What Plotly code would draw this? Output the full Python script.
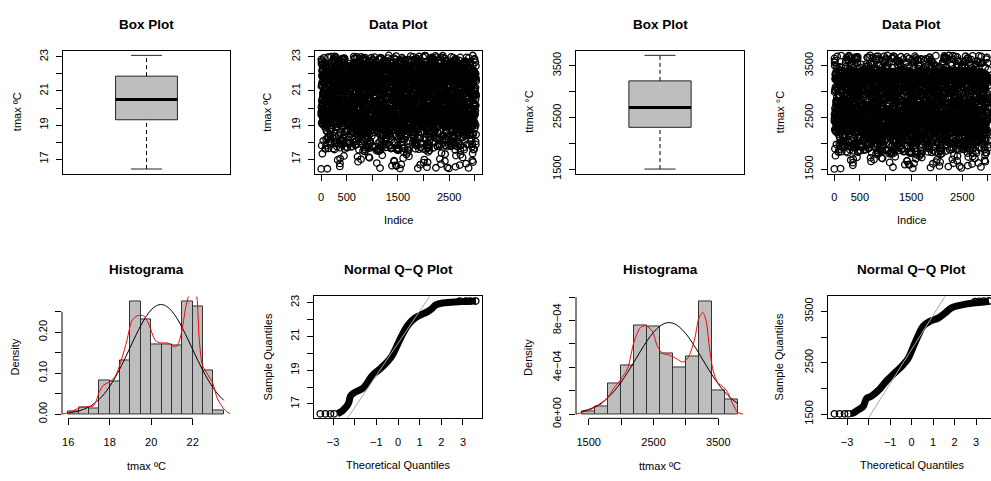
import numpy as np
import plotly.graph_objects as go

W, H = 991, 481
FONT = "Liberation Sans"

# ---------------- data ----------------
n_obs = 3020

# variable 1 : tmax
tmax_box = {"lo": 16.42, "q1": 19.31, "med": 20.50, "q3": 21.87, "hi": 23.09}
tmax_breaks = [16.0, 16.5, 17.0, 17.5, 18.0, 18.5, 19.0, 19.5, 20.0, 20.5, 21.0, 21.5, 22.0, 22.5, 23.0, 23.5]
tmax_density = [0.0056, 0.0167, 0.015, 0.0825, 0.081, 0.131, 0.2746, 0.2317, 0.1706, 0.1714, 0.1675, 0.276, 0.264, 0.106, 0.0095]
tmax_kde_x = [15.7, 16.0, 16.3, 16.6, 16.9, 17.2, 17.35, 17.5, 17.65, 17.8, 18.0, 18.27, 18.59, 18.83, 19.07, 19.32,
              19.64, 19.88, 20.2, 20.45, 20.77, 21.0, 21.18, 21.34, 21.5, 21.66, 21.79, 22.0, 22.2, 22.31, 22.47,
              22.72, 22.96, 23.2, 23.52, 23.77, 24.0]
tmax_kde_y = [0.0, 0.004, 0.01, 0.016, 0.018, 0.02, 0.033, 0.055, 0.068, 0.074, 0.079, 0.093, 0.137, 0.18, 0.228, 0.24,
              0.24, 0.22, 0.18, 0.174, 0.174, 0.168, 0.164, 0.176, 0.21, 0.26, 0.287, 0.325, 0.287, 0.188, 0.12,
              0.097, 0.077, 0.037, 0.012, 0.002, 0.0]
tmax_norm_x = [16.0, 16.25, 16.5, 16.75, 17.0, 17.25, 17.5, 17.75, 18.0, 18.25, 18.5, 18.75, 19.0, 19.25, 19.5, 19.75,
               20.0, 20.25, 20.5, 20.75, 21.0, 21.25, 21.5, 21.75, 22.0, 22.25, 22.5, 22.75, 23.0, 23.25, 23.5]
tmax_norm_y = [0.0030, 0.0049, 0.0077, 0.0119, 0.0178, 0.0259, 0.0367, 0.0505, 0.0678, 0.0882, 0.1117, 0.1375,
               0.1645, 0.1914, 0.2166, 0.2382, 0.2547, 0.2648, 0.2677, 0.2630, 0.2513, 0.2335, 0.2108, 0.1851,
               0.1580, 0.1311, 0.1058, 0.0830, 0.0633, 0.0470, 0.0338]
tmax_qq_theo = [-2.8, -2.6, -2.45, -2.35, -2.27, -2.2, -2.1, -1.95, -1.6, -1.2, -0.9, -0.6, -0.3, -0.1, 0.2, 0.45,
                0.75, 1.1, 1.35, 1.55, 1.75, 2.1, 2.8, 3.6]
tmax_qq_samp = [16.42, 16.56, 16.75, 16.9, 17.1, 17.45, 17.6, 17.72, 17.95, 18.67, 19.0, 19.35, 19.8, 20.3, 21.1, 21.65,
                22.05, 22.3, 22.45, 22.62, 22.86, 22.98, 23.05, 23.09]
tmax_qq_tail_x = [-3.59, -3.35, -3.12, -2.95, 2.85, 3.13, 3.32, 3.59]
tmax_qq_tail_y = [16.42, 16.42, 16.42, 16.42, 23.08, 23.08, 23.09, 23.09]

# variable 2 : ttmax
ttmax_box = {"lo": 1505, "q1": 2311, "med": 2694, "q3": 3208, "hi": 3702}
ttmax_breaks = [1400, 1600, 1800, 2000, 2200, 2400, 2600, 2800, 3000, 3200, 3400, 3600, 3800]
ttmax_density = [2.5e-5, 6.7e-5, 2.61e-4, 4.19e-4, 7.56e-4, 7.5e-4, 5.22e-4, 3.97e-4, 4.94e-4, 9.67e-4, 2.0e-4, 1.25e-4]
ttmax_kde_x = [1300, 1400, 1550, 1700, 1800, 1900, 2000, 2100, 2200, 2300, 2380, 2480, 2560, 2640, 2740, 2850, 2950,
               3030, 3130, 3200, 3260, 3310, 3360, 3420, 3490, 3570, 3640, 3720, 3800, 3880]
ttmax_kde_y = [0.0, 1.4e-5, 4.5e-5, 9e-5, 1.5e-4, 2.3e-4, 3.0e-4, 3.9e-4, 6.2e-4, 7.4e-4, 7.55e-4, 7.1e-4, 5.8e-4,
               5.2e-4, 5.05e-4, 4.75e-4, 4.45e-4, 4.8e-4, 6.3e-4, 8.2e-4, 8.7e-4, 8.0e-4, 5.8e-4, 3.7e-4, 2.7e-4,
               2.35e-4, 1.9e-4, 9e-5, 1.5e-5, 0.0]
ttmax_norm_x = [1400, 1500, 1600, 1700, 1800, 1900, 2000, 2100, 2200, 2300, 2400, 2500, 2600, 2700, 2800, 2900, 3000,
                3100, 3200, 3300, 3400, 3500, 3600, 3700, 3800]
ttmax_norm_y = [2.48e-5, 4.07e-5, 6.43e-5, 9.78e-5, 1.430e-4, 2.015e-4, 2.728e-4, 3.558e-4, 4.464e-4, 5.389e-4,
                6.26e-4, 7.0e-4, 7.53e-4, 7.80e-4, 7.77e-4, 7.44e-4, 6.87e-4, 6.095e-4, 5.21e-4, 4.28e-4, 3.38e-4,
                2.577e-4, 1.887e-4, 1.331e-4, 9.0e-5]
ttmax_qq_theo = [-2.85, -2.72, -2.49, -2.26, -2.1, -1.87, -1.48, -1.17, -0.78, -0.4, -0.16, 0.07, 0.3, 0.53, 0.84,
                 1.23, 1.54, 1.85, 2.24, 2.86, 3.33, 3.6]
ttmax_qq_samp = [1505, 1519, 1583, 1645, 1800, 1851, 1989, 2147, 2303, 2459, 2585, 2804, 3023, 3211, 3305, 3368, 3462,
                 3568, 3618, 3662, 3680, 3700]
ttmax_qq_tail_x = [-3.59, -3.35, -3.12, -2.95, 2.95, 3.15, 3.35, 3.59]
ttmax_qq_tail_y = [1505, 1505, 1505, 1505, 3690, 3695, 3700, 3702]

# tick labels
tmax_ticks = [17, 18, 19, 20, 21, 22, 23]
tmax_ticktext = ["17", "", "19", "", "21", "", "23"]
ttmax_ticks = [1500, 2000, 2500, 3000, 3500]
ttmax_ticktext = ["1500", "", "2500", "", "3500"]
idx_ticks = [0, 500, 1000, 1500, 2000, 2500, 3000]
idx_ticktext = ["0", "500", "", "1500", "", "2500", ""]
qq_ticks = [-3, -2, -1, 0, 1, 2, 3]
qq_ticktext = ["\u22123", "", "\u22121", "0", "1", "2", "3"]
h1_xticks = [16, 18, 20, 22]
h1_xtext = ["16", "18", "20", "22"]
h1_yticks = [0.0, 0.05, 0.10, 0.15, 0.20, 0.25]
h1_ytext = ["0.00", "", "0.10", "", "0.20", ""]
h2_xticks = [1500, 2000, 2500, 3000, 3500]
h2_xtext = ["1500", "", "2500", "", "3500"]
h2_yticks = [0, 2e-4, 4e-4, 6e-4, 8e-4, 1e-3]
h2_ytext = ["0e+00", "", "4e\u221204", "", "8e\u221204", ""]


# observations in index order, rebuilt from the histogram bin counts read above
def scramble_key(j):
    h = (j.astype(np.uint64) * np.uint64(0x9E3779B1)) & np.uint64(0xFFFFFFFF)
    h ^= h >> np.uint64(15)
    h = (h * np.uint64(0x85EBCA77)) & np.uint64(0xFFFFFFFF)
    h ^= h >> np.uint64(13)
    h = (h * np.uint64(0xC2B2AE3D)) & np.uint64(0xFFFFFFFF)
    h ^= h >> np.uint64(16)
    return h


def rebuild(breaks, density, n, lo, hi):
    vals = []
    for a, b, d in zip(breaks[:-1], breaks[1:], density):
        c = int(round(d * (b - a) * n))
        a2, b2 = max(a, lo), min(b, hi)
        vals.extend(a2 + (b2 - a2) * (np.arange(c) + 0.5) / c)
    vals = np.array(vals)
    pos = np.argsort(np.argsort(scramble_key(np.arange(len(vals)))))
    return pos + 1, vals


# ---------------- layout helpers ----------------
def px_x(a, b):
    return [a / W, min(b / W, 1.0)]


def px_y(top, bot):
    return [1 - bot / H, 1 - top / H]


TICKF = dict(family=FONT, size=11, color="black")
fig = go.Figure()
layout = dict(width=W, height=H, margin=dict(l=0, r=0, t=0, b=0), paper_bgcolor="white",
              plot_bgcolor="white", showlegend=False, font=dict(family=FONT, color="black"),
              barmode="overlay", bargap=0)

TOP = px_y(50, 176)
BOT = px_y(302, 427)


def xax(dom, yanchor, rng, tv=None, tt=None, line=True, mirror=True):
    d = dict(domain=dom, anchor=yanchor, range=rng, showgrid=False, zeroline=False,
             showline=line, linecolor="black", linewidth=1, mirror=mirror,
             tickfont=TICKF, fixedrange=True)
    if tv is None:
        d.update(showticklabels=False, ticks="")
    else:
        d.update(tickmode="array", tickvals=tv, ticktext=tt, ticks="outside", ticklen=6,
                 tickcolor="black", tickwidth=1, ticklabelstandoff=7)
    return d


def yax(dom, xanchor, rng, tv, tt, line=True, mirror=True):
    return dict(domain=dom, anchor=xanchor, range=rng, showgrid=False, zeroline=False,
                showline=line, linecolor="black", linewidth=1, mirror=mirror,
                tickfont=TICKF, tickmode="array", tickvals=tv, ticktext=tt,
                ticks="outside", ticklen=6, tickcolor="black", tickwidth=1, tickangle=-90,
                ticklabelstandoff=4, fixedrange=True)


R1 = [16.15, 23.36]
R2 = [1417, 3790]
layout["xaxis"] = xax(px_x(63, 230), "y", [0.46, 1.54])
layout["yaxis"] = yax(TOP, "x", R1, tmax_ticks, tmax_ticktext)
layout["xaxis2"] = xax(px_x(315, 482), "y2", [-120, 3140], idx_ticks, idx_ticktext)
layout["yaxis2"] = yax(TOP, "x2", R1, tmax_ticks, tmax_ticktext)
layout["xaxis3"] = xax(px_x(576, 744), "y3", [0.46, 1.54])
layout["yaxis3"] = yax(TOP, "x3", R2, ttmax_ticks, ttmax_ticktext)
layout["xaxis4"] = xax(px_x(828, 991), "y4", [-123, 3060], idx_ticks, idx_ticktext)
layout["yaxis4"] = yax(TOP, "x4", R2, ttmax_ticks, ttmax_ticktext, mirror=False)

layout["xaxis5"] = xax(px_x(62, 230), "y5", [15.7, 23.8], h1_xticks, h1_xtext, line=False, mirror=False)
layout["yaxis5"] = yax(BOT, "x5", [-0.0102, 0.2874], h1_yticks, h1_ytext, line=False, mirror=False)
layout["xaxis6"] = xax(px_x(314, 482), "y6", [-3.88, 3.88], qq_ticks, qq_ticktext)
layout["yaxis6"] = yax(BOT, "x6", R1, tmax_ticks, tmax_ticktext)
layout["xaxis7"] = xax(px_x(576, 744), "y7", [1304, 3896], h2_xticks, h2_xtext, line=False, mirror=False)
layout["yaxis7"] = yax(BOT, "x7", [-3.58e-5, 1.0058e-3], h2_yticks, h2_ytext, line=False, mirror=False)
layout["xaxis8"] = xax(px_x(828, 991), "y8", [-3.89, 3.69], qq_ticks, qq_ticktext)
layout["yaxis8"] = yax(BOT, "x8", R2, ttmax_ticks, ttmax_ticktext, mirror=False)


# ---------------- box plots ----------------
def boxplot(st, xa, ya):
    kw = dict(xaxis=xa, yaxis=ya, hoverinfo="skip", mode="lines")
    fig.add_trace(go.Scatter(x=[0.8, 1.2, 1.2, 0.8, 0.8], y=[st["q1"], st["q1"], st["q3"], st["q3"], st["q1"]],
                             fill="toself", fillcolor="#BEBEBE", line=dict(color="#222222", width=1), **kw))
    fig.add_trace(go.Scatter(x=[1, 1], y=[st["q3"], st["hi"]], line=dict(color="black", width=1, dash="4px,3px"), **kw))
    fig.add_trace(go.Scatter(x=[1, 1], y=[st["lo"], st["q1"]], line=dict(color="black", width=1, dash="4px,3px"), **kw))
    fig.add_trace(go.Scatter(x=[0.9, 1.1], y=[st["hi"], st["hi"]], line=dict(color="#222222", width=1), **kw))
    fig.add_trace(go.Scatter(x=[0.9, 1.1], y=[st["lo"], st["lo"]], line=dict(color="#222222", width=1), **kw))
    fig.add_trace(go.Scatter(x=[0.8, 1.2], y=[st["med"], st["med"]], line=dict(color="black", width=3), **kw))


boxplot(tmax_box, "x", "y")
boxplot(ttmax_box, "x3", "y3")

# ---------------- data plots ----------------
MK = dict(symbol="circle-open", size=6.5, color="black", line=dict(width=1.3, color="black"))
ix1, v1 = rebuild(tmax_breaks, tmax_density, n_obs, tmax_box["lo"], tmax_box["hi"])
ix2, v2 = rebuild(ttmax_breaks, ttmax_density, n_obs, ttmax_box["lo"], ttmax_box["hi"])
fig.add_trace(go.Scatter(x=ix1, y=v1, mode="markers", marker=MK, xaxis="x2", yaxis="y2", hoverinfo="skip"))
fig.add_trace(go.Scatter(x=ix2, y=v2, mode="markers", marker=MK, xaxis="x4", yaxis="y4", hoverinfo="skip"))


# ---------------- histograms ----------------
def hist(breaks, dens, kx, ky, nx, ny, xa, ya):
    b = np.array(breaks, dtype=float)
    fig.add_trace(go.Bar(x=(b[:-1] + b[1:]) / 2, y=dens, width=np.diff(b), xaxis=xa, yaxis=ya,
                         marker=dict(color="#BEBEBE", line=dict(color="#333333", width=1)), hoverinfo="skip"))
    fig.add_trace(go.Scatter(x=nx, y=ny, mode="lines", line=dict(color="black", width=1, shape="spline"),
                             xaxis=xa, yaxis=ya, hoverinfo="skip"))
    fig.add_trace(go.Scatter(x=kx, y=ky, mode="lines", line=dict(color="red", width=1, shape="spline", smoothing=0.8),
                             xaxis=xa, yaxis=ya, hoverinfo="skip"))


hist(tmax_breaks, tmax_density, tmax_kde_x, tmax_kde_y, tmax_norm_x, tmax_norm_y, "x5", "y5")
hist(ttmax_breaks, ttmax_density, ttmax_kde_x, ttmax_kde_y, ttmax_norm_x, ttmax_norm_y, "x7", "y7")

shapes = []
for xa, ya, xt, yt in [("x5", "y5", h1_xticks, h1_yticks), ("x7", "y7", h2_xticks, h2_yticks)]:
    shapes.append(dict(type="line", xref=xa, yref=ya + " domain", x0=xt[0], x1=xt[-1], y0=0, y1=0,
                       line=dict(color="black", width=1)))
    shapes.append(dict(type="line", xref=xa + " domain", yref=ya, x0=0, x1=0, y0=yt[0], y1=yt[-1],
                       line=dict(color="black", width=1)))
layout["shapes"] = shapes


# ---------------- QQ plots ----------------
def qq(tx, sy, tailx, taily, st, xa, ya):
    slope = (st["q3"] - st["q1"]) / 1.349
    icpt = (st["q1"] + st["q3"]) / 2
    fig.add_trace(go.Scatter(x=tx, y=sy, mode="lines", line=dict(color="black", width=7, shape="spline"),
                             xaxis=xa, yaxis=ya, hoverinfo="skip"))
    fig.add_trace(go.Scatter(x=tailx, y=taily, mode="markers", marker=MK, xaxis=xa, yaxis=ya, hoverinfo="skip"))
    fig.add_trace(go.Scatter(x=[-5, 5], y=[icpt - 5 * slope, icpt + 5 * slope], mode="lines",
                             line=dict(color="#A8A8A8", width=1), xaxis=xa, yaxis=ya, hoverinfo="skip"))


qq(tmax_qq_theo, tmax_qq_samp, tmax_qq_tail_x, tmax_qq_tail_y, tmax_box, "x6", "y6")
qq(ttmax_qq_theo, ttmax_qq_samp, ttmax_qq_tail_x, ttmax_qq_tail_y, ttmax_box, "x8", "y8")

# ---------------- texts ----------------
ann = []


def txt(s, x, y, size=11, bold=False, angle=0):
    ann.append(dict(text=("<b>%s</b>" % s) if bold else s, x=x / W, y=1 - y / H, xref="paper", yref="paper",
                    showarrow=False, xanchor="center", yanchor="middle", textangle=angle,
                    font=dict(family=FONT, size=size, color="black")))


for s, x in [("Box Plot", 146.5), ("Data Plot", 398.5), ("Box Plot", 660), ("Data Plot", 911.5)]:
    txt(s, x, 23, 13.5, True)
for s, x in [("Histograma", 146), ("Normal Q\u2212Q Plot", 398), ("Histograma", 660), ("Normal Q\u2212Q Plot", 911.5)]:
    txt(s, x, 274.5, 13.5, True)
txt("Indice", 398.5, 224)
txt("Indice", 911.5, 224)
txt("Theoretical Quantiles", 398, 475)
txt("Theoretical Quantiles", 911.5, 475)
txt("tmax \u00baC", 146, 476)
txt("ttmax \u00baC", 660, 476)
txt("tmax \u00baC", 17, 113, angle=-90)
txt("tmax \u00baC", 267.5, 113, angle=-90)
txt("ttmax \u00b0C", 529.5, 113, angle=-90)
txt("ttmax \u00b0C", 780, 113, angle=-90)
txt("Density", 15, 364.5, angle=-90)
txt("Sample Quantiles", 268, 364.5, angle=-90)
txt("Density", 528.5, 364.5, angle=-90)
txt("Sample Quantiles", 779, 364.5, angle=-90)
layout["annotations"] = ann

fig.update_layout(**layout)
fig.write_html("out.html", config={"displayModeBar": False})
